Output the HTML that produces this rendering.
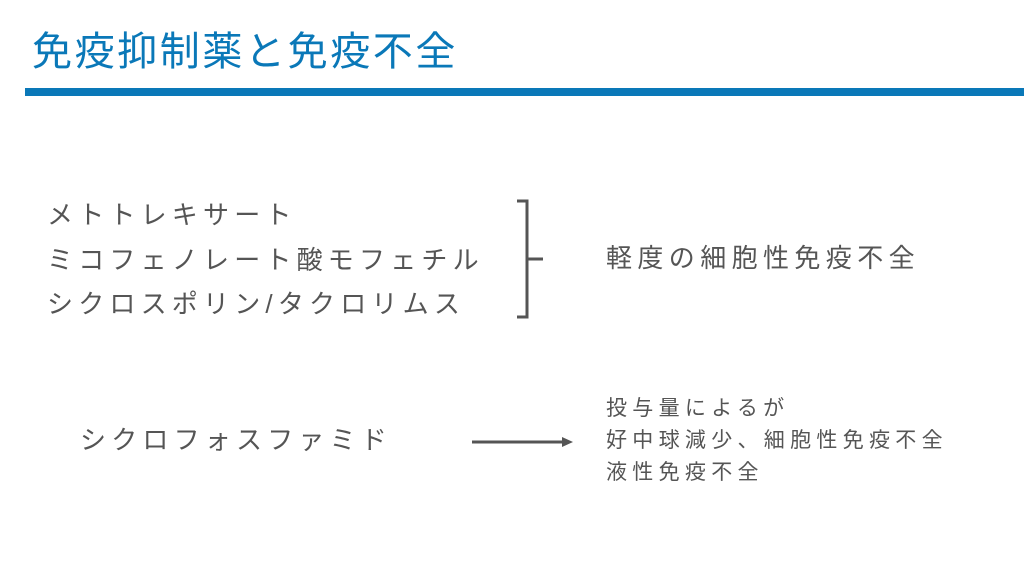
<!DOCTYPE html>
<html><head><meta charset="utf-8"><style>
body{margin:0;width:1024px;height:575px;background:#fff;position:relative;overflow:hidden;font-family:"Liberation Sans","Noto Sans CJK JP",sans-serif;}
.t{position:absolute;white-space:nowrap;line-height:1;}
</style></head><body>
<div class="t" style="left:32px;top:32px;font-size:40px;letter-spacing:2.6px;color:#0a78b8;">免疫抑制薬と免疫不全</div>
<div style="position:absolute;left:25px;top:88px;width:999px;height:8px;background:#0a78b8;"></div>
<div class="t" style="left:47px;top:193px;font-size:26px;letter-spacing:5.2px;color:#555;line-height:44.5px;">メトトレキサート<br>ミコフェノレート酸モフェチル<br>シクロスポリン/タクロリムス</div>
<svg style="position:absolute;left:0;top:0" width="1024" height="575">
<path d="M517 201 H527 V317 H517 M527 259 H543" fill="none" stroke="#555" stroke-width="3"/>
<line x1="472" y1="442" x2="564" y2="442" stroke="#555" stroke-width="3"/>
<polygon points="562,437 573,442 562,447" fill="#555"/>
</svg>
<div class="t" style="left:606px;top:245px;font-size:26px;letter-spacing:5.4px;color:#555;">軽度の細胞性免疫不全</div>
<div class="t" style="left:80px;top:427px;font-size:26px;letter-spacing:5.2px;color:#555;">シクロフォスファミド</div>
<div class="t" style="left:606px;top:393px;font-size:21px;letter-spacing:5.3px;color:#555;line-height:32px;">投与量によるが<br>好中球減少、細胞性免疫不全<br>液性免疫不全</div>
</body></html>
